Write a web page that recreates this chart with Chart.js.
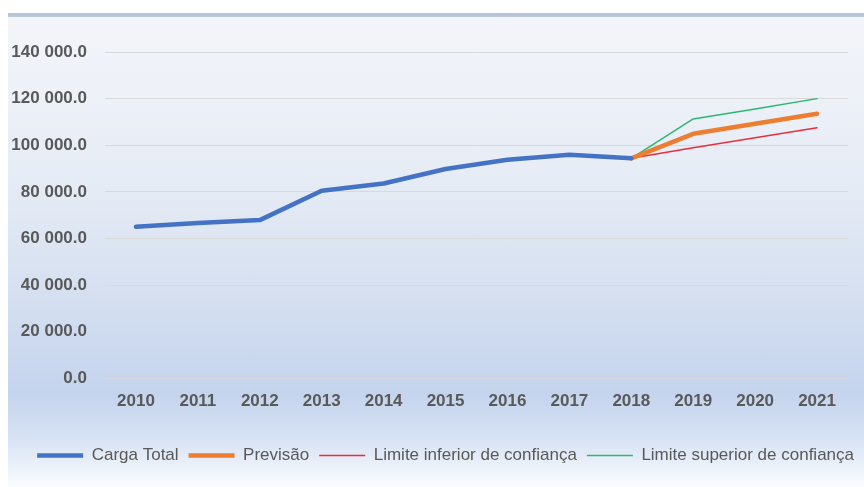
<!DOCTYPE html>
<html>
<head>
<meta charset="utf-8">
<script src="https://cdn.jsdelivr.net/npm/chart.js@4.4.1/dist/chart.umd.min.js"></script>
<style>
  html, body { margin: 0; padding: 0; background: #ffffff; }
  #wrap { position: relative; width: 864px; height: 487px; overflow: hidden; }
  #bg {
    position: absolute; left: 8px; top: 13px; right: 0; bottom: 0;
    border-top: 4px solid #b7c4d9;
    background: linear-gradient(to bottom, #f3f5fa 0%, #e6ecf5 35%, #d3def0 62%, #c4d4ed 80%, #d8e3f4 90%, #fafcfe 100%);
  }
  #myChart { position: absolute; left: 0; top: 0; }
</style>
</head>
<body>
<div id="wrap">
  <div id="bg"></div>
  <canvas id="myChart" width="864" height="487"></canvas>
</div>
<script>
const years = ['2010', '2011', '2012', '2013', '2014', '2015', '2016', '2017', '2018', '2019', '2020', '2021'];
const cargaTotal = [65000, 66700, 67900, 80500, 83600, 89800, 93800, 95900, 94400, null, null, null];
const previsao = [null, null, null, null, null, null, null, null, 94400, 104900, 109200, 113500];
const limiteInferior = [null, null, null, null, null, null, null, null, 94400, 98900, 103200, 107500];
const limiteSuperior = [null, null, null, null, null, null, null, null, 94400, 111300, 115600, 120000];

const fontFamily = '"Liberation Sans", Arial, sans-serif';

function fmt(v) {
  return Math.round(v).toString().replace(/\B(?=(\d{3})+(?!\d))/g, ' ') + '.0';
}

const ctx = document.getElementById('myChart').getContext('2d');

const myChart = new Chart(ctx, {
  type: 'line',
  data: {
    labels: years,
    datasets: [
      { label: 'Carga Total', data: cargaTotal, borderColor: '#4472c4', backgroundColor: '#4472c4', borderWidth: 4.5 },
      { label: 'Previsão', data: previsao, borderColor: '#ed7d31', backgroundColor: '#ed7d31', borderWidth: 4.5 },
      { label: 'Limite inferior de confiança', data: limiteInferior, borderColor: '#e8303c', backgroundColor: '#e8303c', borderWidth: 1.5 },
      { label: 'Limite superior de confiança', data: limiteSuperior, borderColor: '#2fb671', backgroundColor: '#2fb671', borderWidth: 1.5 }
    ]
  },
  options: {
    responsive: false,
    animation: false,
    devicePixelRatio: 1,
    layout: { padding: { top: 52, left: 0, right: 0, bottom: 13 } },
    elements: {
      point: { radius: 0, hoverRadius: 0 },
      line: { tension: 0, borderCapStyle: 'round', borderJoinStyle: 'round' }
    },
    plugins: {
      tooltip: { enabled: false },
      legend: {
        position: 'bottom',
        align: 'end',
        title: { display: true, text: '', font: { size: 1 }, padding: { top: 11, bottom: 0 } },
        labels: {
          usePointStyle: true,
          pointStyle: 'line',
          pointStyleWidth: 46,
          padding: 10,
          color: '#595959',
          font: { family: fontFamily, size: 17 }
        }
      }
    },
    scales: {
      x: {
        offset: true,
        grid: { display: false, drawTicks: false },
        border: { display: false },
        ticks: {
          padding: 13,
          color: '#595959',
          font: { family: fontFamily, size: 17, weight: 'bold' }
        }
      },
      y: {
        min: 0,
        max: 140000,
        afterFit: (s) => { s.width = 105; },
        grid: { color: '#d9d9d9', lineWidth: 1, drawTicks: false },
        border: { display: false },
        ticks: {
          stepSize: 20000,
          padding: 18,
          color: '#595959',
          font: { family: fontFamily, size: 17, weight: 'bold' },
          callback: (v) => fmt(v)
        }
      },
      yRight: {
        position: 'right',
        display: true,
        grid: { display: false, drawTicks: false },
        border: { display: false },
        ticks: { display: false },
        afterFit: (s) => { s.width = 16; }
      }
    }
  }
});
</script>
</body>
</html>
